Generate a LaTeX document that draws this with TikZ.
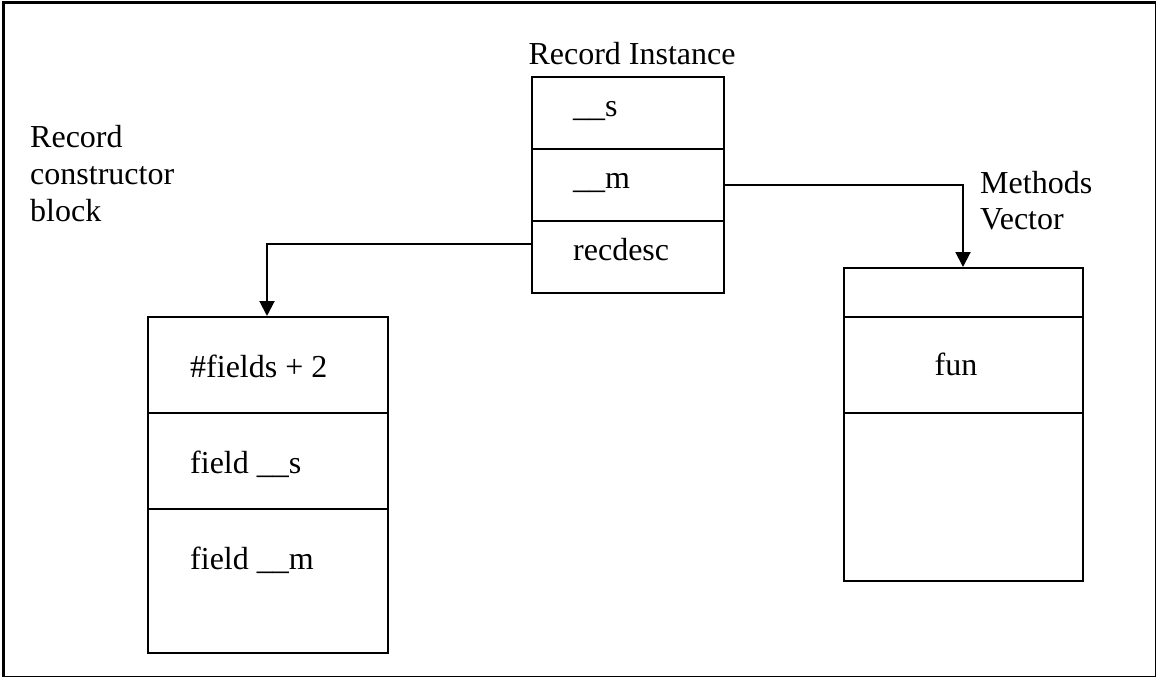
\documentclass[tikz,border=0pt]{standalone}
\usepackage{fontspec}
\setmainfont{Liberation Serif}
\usetikzlibrary{arrows.meta}
\begin{document}
\begin{tikzpicture}[x=1pt,y=-1pt,
  cell/.style={draw, line width=2pt, inner sep=0pt, anchor=north west},
  lbl/.style={inner sep=0pt, font=\fontsize{32}{37}\selectfont},
  conn/.style={line width=2pt, -{Triangle[width=15pt,length=15pt]}}]
\useasboundingbox (0,0) rectangle (1156,677);
\node[draw, line width=3pt, inner sep=0pt, anchor=north west, minimum width=1153pt, minimum height=674pt] (frame) at (1.5,1.5) {};

% Record instance
\node[lbl, anchor=base] (riT) at (632,65) {Record Instance};
\node[cell, minimum width=192pt, minimum height=72pt] (ri1) at (531,76) {};
\node[cell, minimum width=192pt, minimum height=72pt] (ri2) at (531,148) {};
\node[cell, minimum width=192pt, minimum height=72pt] (ri3) at (531,220) {};
\node[lbl, anchor=base west] (riS) at (573,116) {\_\_s};
\node[lbl, anchor=base west] (riM) at (573,188) {\_\_m};
\node[lbl, anchor=base west] (riR) at (573,260) {recdesc};

% Record constructor block
\node[lbl, anchor=base west] (lbA) at (30,147) {Record};
\node[lbl, anchor=base west] (lbB) at (30,184) {constructor};
\node[lbl, anchor=base west] (lbC) at (30,221) {block};
\node[cell, minimum width=240pt, minimum height=96pt] (lb1) at (147,316) {};
\node[cell, minimum width=240pt, minimum height=96pt] (lb2) at (147,412) {};
\node[cell, minimum width=240pt, minimum height=144pt] (lb3) at (147,508) {};
\node[lbl, anchor=base west] (lbT1) at (190,377) {\#fields + 2};
\node[lbl, anchor=base west] (lbT2) at (190,473) {field \_\_s};
\node[lbl, anchor=base west] (lbT3) at (190,569) {field \_\_m};

% Methods vector
\node[lbl, anchor=base west] (mvA) at (980,193) {Methods};
\node[lbl, anchor=base west] (mvB) at (980,229) {Vector};
\node[cell, minimum width=239pt, minimum height=49pt] (rb1) at (843,267) {};
\node[cell, minimum width=239pt, minimum height=96pt] (rb2) at (843,316) {};
\node[cell, minimum width=239pt, minimum height=168pt] (rb3) at (843,412) {};
\node[lbl, anchor=base] (fun) at (956,375) {fun};

% connectors
\coordinate (c1) at (267,244);
\coordinate (c2) at (963,185);
\draw[conn] (ri3.west |- c1) -| (lb1.north -| c1);
\draw[conn] (ri2.east |- c2) -| (rb1.north -| c2);
\end{tikzpicture}
\end{document}
